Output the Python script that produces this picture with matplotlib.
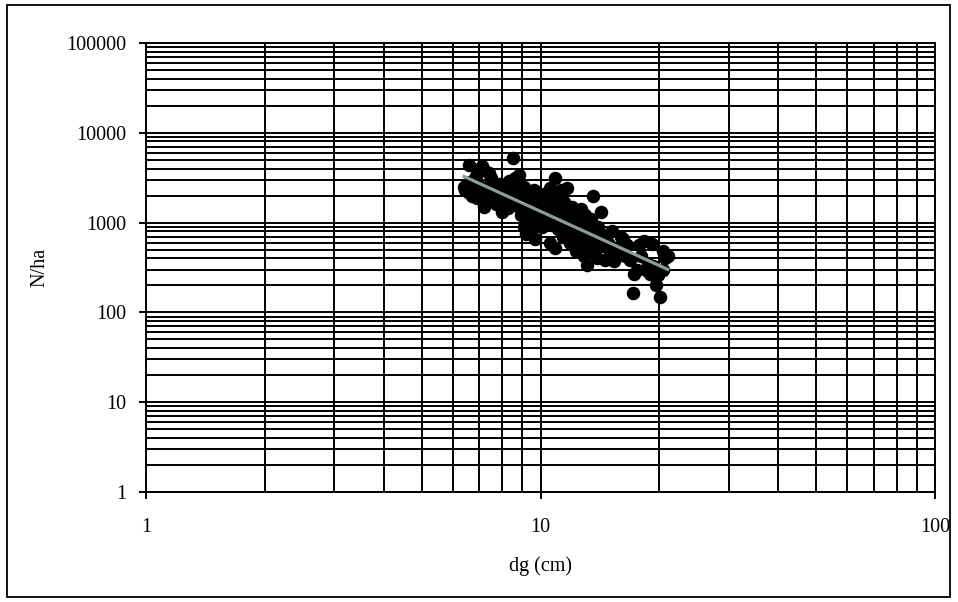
import numpy as np
import matplotlib
matplotlib.use("Agg")
import matplotlib.pyplot as plt
from matplotlib.patches import Rectangle
from matplotlib.ticker import LogLocator, FixedLocator, NullFormatter

# dg (cm) and stems per hectare
dg = [6.4, 6.45, 6.5, 6.6, 6.55, 6.7, 6.7, 6.8, 6.85, 6.9, 6.95, 7.0, 6.6, 6.75,
      7.1, 7.2, 7.2, 7.3, 7.3, 7.4, 7.4, 7.5, 7.55, 7.6, 7.7, 7.7, 7.8, 7.9, 7.9, 7.5, 7.35,
      8.0, 8.1, 8.1, 8.2, 8.3, 8.4, 8.5, 8.5, 8.6, 8.6, 8.7, 8.8, 8.8, 8.9, 8.9, 9.0, 8.25,
      9.1, 9.1, 9.2, 9.2, 9.3, 9.3, 9.4, 9.5, 9.5, 9.6, 9.7, 9.7, 9.8, 9.9, 9.9, 10.0,
      10.1, 10.2, 10.2, 10.3, 10.4, 10.5, 10.6, 10.6, 10.7, 10.8, 10.9, 10.9, 11.0, 11.0,
      11.1, 11.2, 11.3, 11.3, 11.4, 11.5, 11.6, 11.7, 11.7, 11.8, 11.9, 12.0,
      12.1, 12.2, 12.3, 12.3, 12.5, 12.5, 12.6, 12.7, 12.8, 12.9, 13.0, 13.0,
      13.1, 13.2, 13.3, 13.4, 13.5, 13.6, 13.6, 13.8, 13.9, 14.0,
      14.2, 14.3, 14.5, 14.6, 14.8, 15.0, 15.2, 15.4, 15.5, 15.8, 16.0, 16.2, 16.4,
      16.6, 16.9, 17.2, 17.3, 17.6, 17.8, 18.0, 18.3, 18.5, 18.7,
      19.0, 19.3, 19.6, 19.9, 20.1, 20.4, 20.7, 21.0, 19.2, 20.5]
n_ha = [2500, 2300, 2700, 4400, 2200, 2000, 2900, 2400, 3300, 1900, 2600, 2200, 2650, 2150,
        4300, 3900, 1500, 1700, 2500, 3600, 2000, 2800, 1800, 2300, 1600, 2600, 2100, 1900, 2700, 3100, 2250,
        1300, 2400, 1700, 2000, 2900, 1600, 5200, 2300, 3100, 1800, 2600, 1500, 3400, 2200, 1200, 1900, 1450,
        2500, 900, 1600, 750, 2100, 1300, 1000, 1800, 850, 2300, 650, 1400, 1100, 2000, 1600, 1250,
        900, 2100, 1500, 1100, 1800, 1300, 600, 2400, 950, 1600, 3100, 520, 1200, 2000,
        850, 1450, 2300, 1000, 700, 1700, 1250, 2400, 900, 1100, 600, 1500,
        800, 1300, 480, 1000, 1150, 700, 560, 1400, 900, 420, 760, 1200,
        340, 620, 950, 1100, 500, 2000, 800, 650, 400, 900,
        1300, 550, 720, 380, 600, 450, 800, 370, 520, 480, 700, 650, 430,
        560, 380, 165, 270, 300, 560, 420, 620, 300, 350,
        270, 330, 200, 260, 150, 480, 400, 430, 580, 300]

x_ticks = [1, 10, 100]
y_ticks = [1, 10, 100, 1000, 10000, 100000]

plt.rcParams['font.family'] = ['Liberation Serif', 'DejaVu Serif']

fig = plt.figure(figsize=(9.58, 6.02), dpi=100)
ax = fig.add_axes([0.1524, 0.1827, 0.8236, 0.7459])

ax.set_xscale('log')
ax.set_yscale('log')
ax.set_xlim(1, 100)
ax.set_ylim(1, 100000)

# full log grid, major and minor alike
minor_x = LogLocator(base=10, subs=np.arange(2, 10))
minor_y = LogLocator(base=10, subs=np.arange(2, 10), numticks=20)
ax.xaxis.set_major_locator(FixedLocator(x_ticks))
ax.yaxis.set_major_locator(FixedLocator(y_ticks))
ax.xaxis.set_minor_locator(minor_x)
ax.yaxis.set_minor_locator(minor_y)
ax.xaxis.set_minor_formatter(NullFormatter())
ax.yaxis.set_minor_formatter(NullFormatter())
ax.set_xticklabels([str(v) for v in x_ticks])
ax.set_yticklabels([str(v) for v in y_ticks])
ax.grid(True, which='both', color='black', linewidth=1.4)
ax.set_axisbelow(True)

ax.tick_params(which='major', direction='out', length=5, width=1.4, labelsize=14.5, colors='black')
ax.tick_params(axis='x', which='major', pad=14)
ax.tick_params(axis='y', which='major', pad=9)
ax.tick_params(which='minor', length=0)
for sp in ax.spines.values():
    sp.set_linewidth(1.4)

ax.scatter(dg, n_ha, s=95, color='black', zorder=3, linewidths=0)

# power-law trend line
b, a = np.polyfit(np.log10(dg), np.log10(n_ha), 1)
xs = np.array([min(dg), max(dg)])
ax.plot(xs, 10 ** (a + b * np.log10(xs)), color='#88a09c', linewidth=2.3, zorder=4)

ax.set_xlabel('dg (cm)', fontsize=14.5)
ax.set_ylabel('N/ha', fontsize=14.5)
ax.xaxis.set_label_coords(0.5, -0.143)
ax.yaxis.set_label_coords(-0.123, 0.5)

fig.patches.append(Rectangle((7 / 958, 5 / 602), 943 / 958, 592 / 602, transform=fig.transFigure,
                             fill=False, edgecolor='black', linewidth=1.3))

fig.savefig('out.png', dpi=100)
